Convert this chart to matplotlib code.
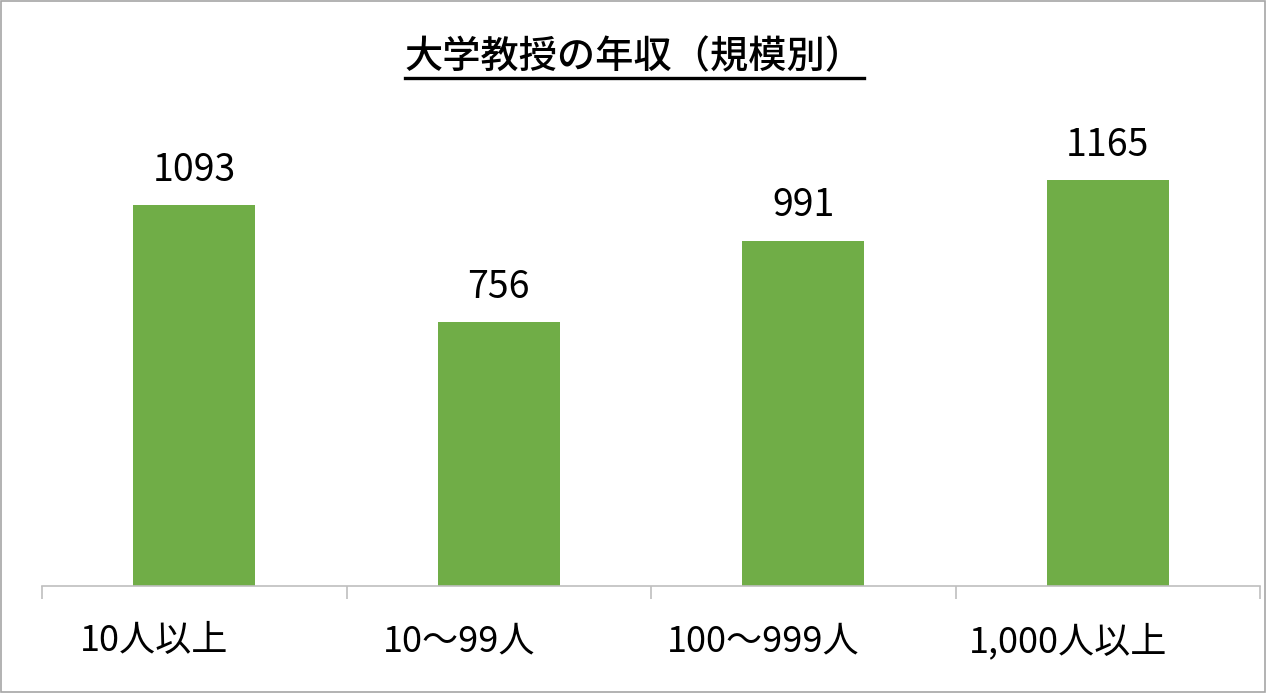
import numpy as np
import matplotlib.pyplot as plt
from matplotlib.lines import Line2D
from matplotlib.patches import Rectangle
from matplotlib.transforms import ScaledTranslation

plt.rcParams['font.family'] = ['Noto Sans CJK JP', 'DejaVu Sans']

# data
categories = ['10人以上', '10〜99人', '100〜999人', '1,000人以上']
salaries = [1093, 756, 991, 1165]
title = '大学教授の年収（規模別）'

bar_color = '#70AD47'
axis_gray = '#BFBFBF'

fig = plt.figure(figsize=(12.68, 6.93), dpi=100)
W, H = 1268, 693
ax = fig.add_axes([42 / W, (H - 586) / H, (1260 - 42) / W, (586 - 98) / H])

x = np.arange(len(categories))
bars = ax.bar(x, salaries, width=0.4, color=bar_color, zorder=2)
ax.set_xlim(-0.5, len(categories) - 0.5)
ax.set_ylim(0, 1400)

# value labels
for xi, v in zip(x, salaries):
    ax.annotate(str(v), (xi, v), xytext=(0, 11), textcoords='offset points',
                ha='center', va='bottom', fontsize=27)

# axes styling
for side in ['top', 'right', 'left']:
    ax.spines[side].set_visible(False)
ax.spines['bottom'].set_color(axis_gray)
ax.spines['bottom'].set_linewidth(1.2)
ax.set_yticks([])
ax.set_xticks(x)
ax.set_xticklabels(categories, fontsize=26)
ax.tick_params(axis='x', which='major', length=0, pad=27)
ax.set_xticks(np.arange(-0.5, len(categories)), minor=True)
ax.tick_params(axis='x', which='minor', length=9, color=axis_gray, width=1.2)

# labels sit a bit left of the bar centres in the original
shift = ScaledTranslation(-40 / 100, 0, fig.dpi_scale_trans)
for lbl in ax.get_xticklabels():
    lbl.set_transform(lbl.get_transform() + shift)

# title with underline
t = fig.text(0.5, (H - 57) / H, title, ha='center', va='center',
             fontsize=27.5, fontweight='medium')
fig.canvas.draw()
bb = t.get_window_extent(fig.canvas.get_renderer())
uy = bb.y0 - 1
fig.add_artist(Line2D([bb.x0 / W, bb.x1 / W], [uy / H, uy / H],
                      transform=fig.transFigure, color='black', linewidth=2.4))

# outer border
fig.add_artist(Rectangle((0.001, 0.002), 0.997, 0.996, transform=fig.transFigure,
                         fill=False, edgecolor='#A6A6A6', linewidth=1.2))

fig.savefig('out.png', dpi=100)
